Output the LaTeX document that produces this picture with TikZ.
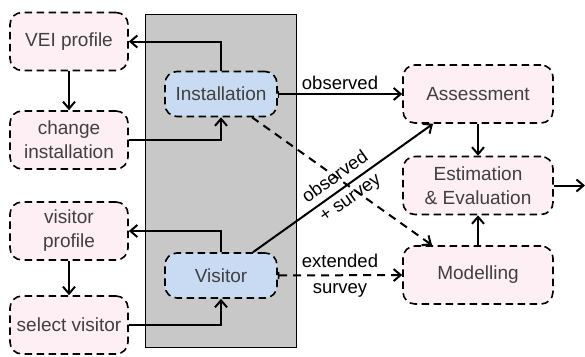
\documentclass[tikz,border=0pt]{standalone}
\usepackage{fontspec}
\setmainfont{Liberation Sans}
\usetikzlibrary{arrows.meta,positioning}
\definecolor{boxpink}{HTML}{FDEFF3}
\definecolor{boxblue}{HTML}{C9DBF2}
\definecolor{panelgray}{HTML}{C8C8C8}
\definecolor{boxtext}{HTML}{404040}
\tikzset{
  x=1pt, y=-1pt,
  basebox/.style={draw=black, line width=1.6pt, dash pattern=on 7.5pt off 4.5pt,
    rounded corners=12pt, align=center, text=boxtext,
    font=\fontsize{19}{24}\selectfont, inner sep=2pt},
  sidebox/.style={basebox, fill=boxpink, minimum width=118pt, minimum height=58pt},
  mainbox/.style={basebox, fill=boxpink, minimum width=150pt, minimum height=58pt},
  actorbox/.style={basebox, fill=boxblue, minimum width=112pt, minimum height=45pt},
  flow/.style={line width=2pt, -{Straight Barb[length=7pt,width=12pt,line width=2pt]}},
  flowbar/.style={line width=2pt, {Bar[width=7pt,line width=1.6pt]}-{Straight Barb[length=7pt,width=12pt,line width=2pt]}},
  edgelabel/.style={font=\fontsize{18.5}{26}\selectfont, align=center, text=black, inner sep=1pt}
}
\begin{document}
\begin{tikzpicture}
\useasboundingbox (0,0) rectangle (585,356);

% grey panel holding the two actors
\fill[panelgray, draw=black, line width=0.8pt] (145,14) rectangle (296,347);

% left column
\node[sidebox] (vei) at (69,41.5) {VEI profile};
\node[sidebox] (chg) at (69,140) {change\\installation};
\node[sidebox] (vprof) at (69,231) {visitor\\profile};
\node[sidebox] (sel) at (69,325) {select visitor};

% actors
\node[actorbox] (inst) at (221,94) {Installation};
\node[actorbox] (vis) at (221,275.5) {Visitor};

% right column
\node[mainbox] (assess) at (478,94) {Assessment};
\node[mainbox] (est) at (478,185.5) {Estimation\\\& Evaluation};
\node[mainbox] (model) at (478,275) {Modelling};
\coordinate (out) at (585,185.5);

% left loops
\draw[flow] (inst.north) |- (vei.east);
\draw[flow] (vei.south) -- (chg.north);
\draw[flow] (chg.east) -| (inst.south);
\draw[flow] (vis.north) |- (vprof.east);
\draw[flow] (vprof.south) -- (sel.north);
\draw[flow] (sel.east) -| (vis.south);

% data paths
\draw[flowbar] (inst.east) -- node[edgelabel, above=2pt] {observed} (assess.west);
\draw[flow, dash pattern=on 8pt off 6pt] ([xshift=31pt]inst.south) -- ([xshift=-46pt]model.north);
\draw[flow] ([xshift=32pt]vis.north) -- node[edgelabel, sloped] {observed\\+ survey} ([xshift=-45pt]assess.south);
\draw[flowbar, dash pattern=on 8pt off 6pt] (vis.east) -- node[edgelabel] {extended\\survey} (model.west);

% right column
\draw[flow] (assess.south) -- (est.north);
\draw[flow] (model.north) -- (est.south);
\draw[flow] (est.east) -- (out);
\end{tikzpicture}
\end{document}
